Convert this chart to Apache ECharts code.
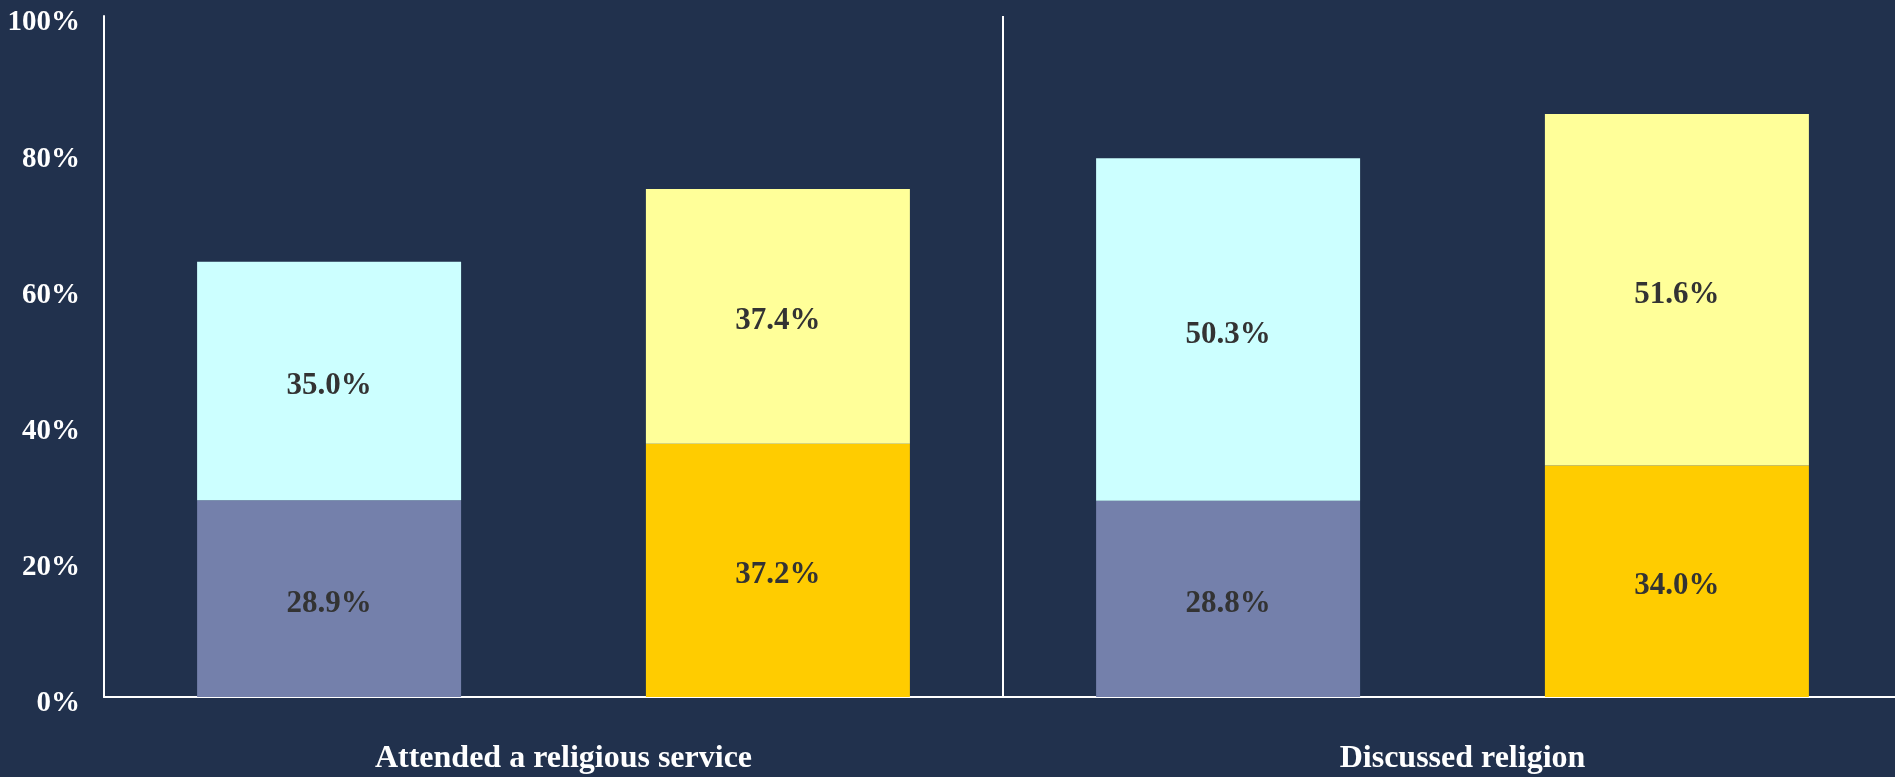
<!DOCTYPE html>
<html>
<head>
<meta charset="utf-8">
<script src="https://cdn.jsdelivr.net/npm/echarts@6/dist/echarts.min.js"></script>
<style>
  html, body { margin: 0; padding: 0; background: #21314d; overflow: hidden; }
  #chart { width: 1902px; height: 777px; }
</style>
</head>
<body>
<div id="chart"></div>
<script>
// Datos de la gráfica
var categories = ['Attended a religious service', 'Discussed religion'];
var groupABottom = [28.9, 28.8];
var groupATop = [35.0, 50.3];
var groupBBottom = [37.2, 34.0];
var groupBTop = [37.4, 51.6];
var yTicks = [0, 20, 40, 60, 80, 100];

var chartDom = document.getElementById('chart');
var myChart = echarts.init(chartDom);

var fontFamily = '"Liberation Serif", "DejaVu Serif", serif';

var dataLabel = {
  show: true,
  position: 'inside',
  offset: [0, 5],
  color: '#333333',
  fontFamily: fontFamily,
  fontWeight: 'bold',
  fontSize: 31,
  formatter: function (p) { return p.value.toFixed(1) + '%'; }
};

function barSeries(data, stack, color) {
  return {
    type: 'bar',
    stack: stack,
    data: data,
    barWidth: 264,
    barGap: '70%',
    itemStyle: { color: color },
    label: dataLabel,
    emphasis: { disabled: true }
  };
}

var option = {
  backgroundColor: '#21314d',
  animation: false,
  grid: { left: 104, right: 0, top: 16, bottom: 80 },
  xAxis: {
    type: 'category',
    data: categories,
    axisLine: { show: true, lineStyle: { color: '#ffffff', width: 2 } },
    axisTick: { show: false },
    splitLine: { show: true, lineStyle: { color: '#ffffff', width: 2 } },
    axisLabel: {
      margin: 46,
      formatter: function (v) { return '{a|' + v + '}'; },
      rich: {
        a: {
          color: '#ffffff',
          fontFamily: fontFamily,
          fontWeight: 'bold',
          fontSize: 32,
          padding: [0, 0, 0, 20]
        }
      }
    }
  },
  yAxis: {
    type: 'value',
    min: yTicks[0],
    max: yTicks[yTicks.length - 1],
    interval: 20,
    axisLine: { show: true, lineStyle: { color: '#ffffff', width: 2 } },
    axisTick: { show: false },
    splitLine: { show: false },
    axisLabel: {
      color: '#ffffff',
      fontFamily: fontFamily,
      fontWeight: 'bold',
      fontSize: 29,
      margin: 24,
      verticalAlign: 'top',
      lineHeight: 14,
      formatter: '{value}%'
    }
  },
  series: [
    barSeries(groupABottom, 'a', '#7480ab'),
    barSeries(groupATop, 'a', '#ccffff'),
    barSeries(groupBBottom, 'b', '#ffcc00'),
    barSeries(groupBTop, 'b', '#ffff99')
  ]
};

myChart.setOption(option);
</script>
</body>
</html>
